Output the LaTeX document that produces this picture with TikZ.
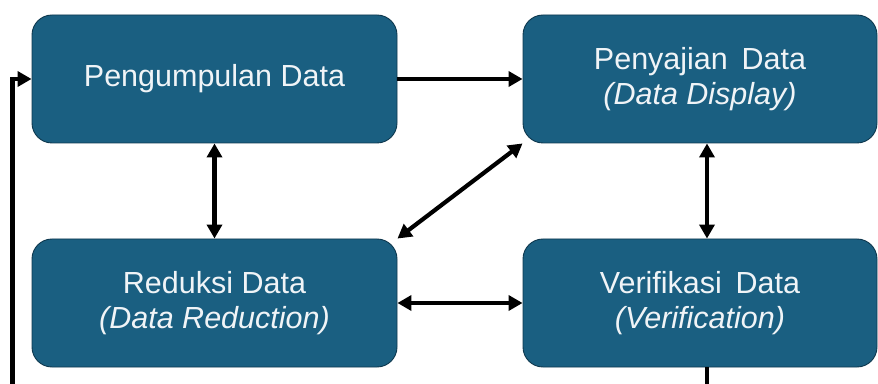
\documentclass[tikz,border=0pt]{standalone}
\usepackage{fontspec}
\setmainfont{Liberation Sans}
\usetikzlibrary{arrows.meta}

\definecolor{boxfill}{RGB}{26,95,129}
\definecolor{boxline}{RGB}{14,56,78}
\definecolor{boxtext}{RGB}{240,244,247}

\tikzset{
  stage/.style={draw=boxline, line width=0.9pt, fill=boxfill, rounded corners=20pt,
    minimum height=128pt, text=boxtext, align=center,
    font=\fontsize{30.5}{35}\selectfont, inner sep=0pt},
  link/.style={line width=4.2pt, draw=black,
    -{Triangle[length=14pt,width=15pt]}},
  twoway/.style={line width=4.2pt, draw=black,
    {Triangle[length=14pt,width=15pt]}-{Triangle[length=14pt,width=15pt]}}
}

\begin{document}
\begin{tikzpicture}[x=1pt,y=1pt]
  \useasboundingbox (0,0) rectangle (878,383);

  % the four stages
  \node[stage, minimum width=365pt] (collect) at (214.5,304) {\raisebox{-3pt}{Pengumpulan Data}};
  \node[stage, minimum width=354pt] (display) at (700,304) {Penyajian\hspace{0.45em}Data\\\textit{(Data Display)}};
  \node[stage, minimum width=365pt] (reduce) at (214.5,80) {\raisebox{-3pt}{Reduksi Data}\\\raisebox{-3pt}{\textit{(Data Reduction)}}};
  \node[stage, minimum width=354pt] (verify) at (700,80) {\raisebox{-3pt}{Verifikasi\hspace{0.45em}Data}\\\raisebox{-3pt}{\textit{(Verification)}}};

  % flows between stages
  \draw[link] (collect.east) -- (display.west);
  \draw[twoway] (collect.south) -- (reduce.north);
  \draw[twoway] (reduce.north east) -- (display.south west);
  \draw[twoway] ([xshift=7pt]display.south) -- ([xshift=7pt]verify.north);
  \draw[twoway] (reduce.east) -- (verify.west);

  % feedback loop back to data collection
  \coordinate (loopturn) at (12.5,-20);
  \draw[link, line join=miter] ([xshift=7pt]verify.south) |- (loopturn) |- (collect.west);
\end{tikzpicture}
\end{document}
